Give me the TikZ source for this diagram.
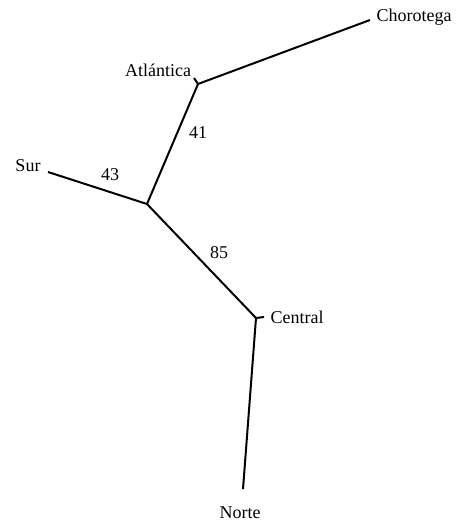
\documentclass[tikz,border=0pt]{standalone}
\usepackage{fontspec}
\setmainfont{Liberation Serif}
\begin{document}
\begin{tikzpicture}[x=1pt,y=-1pt,
  lbl/.style={font=\fontsize{18}{21}\selectfont, inner sep=0pt},
  branch/.style={line width=2pt, line cap=butt}]
\useasboundingbox (0,0) rectangle (455,524);
% leaves / junctions
\coordinate (cho) at (370,20);
\coordinate (atl) at (198,84);
\coordinate (atlt) at (194,78);
\coordinate (sur) at (48,172);
\coordinate (mid) at (147,204);
\coordinate (cen) at (256,318);
\coordinate (cent) at (264,317);
\coordinate (nor) at (243,489);
% labels
\node[lbl] (Lcho) at (414,17) {Chorotega};
\node[lbl] (Latl) at (158,70) {Atlántica};
\node[lbl] (Lsur) at (28,166) {Sur};
\node[lbl] (Lcen) at (297,317) {Central};
\node[lbl] (Lnor) at (240,513) {Norte};
\node[lbl] (n41) at (198,133) {41};
\node[lbl] (n43) at (110,175) {43};
\node[lbl] (n85) at (219,253) {85};
% branches
\draw[branch] (cho) -- (atl);
\draw[branch] (atl) -- (atlt);
\draw[branch] (atl) -- (mid);
\draw[branch] (sur) -- (mid);
\draw[branch] (mid) -- (cen);
\draw[branch] (cen) -- (cent);
\draw[branch] (cen) -- (nor);
\end{tikzpicture}
\end{document}
